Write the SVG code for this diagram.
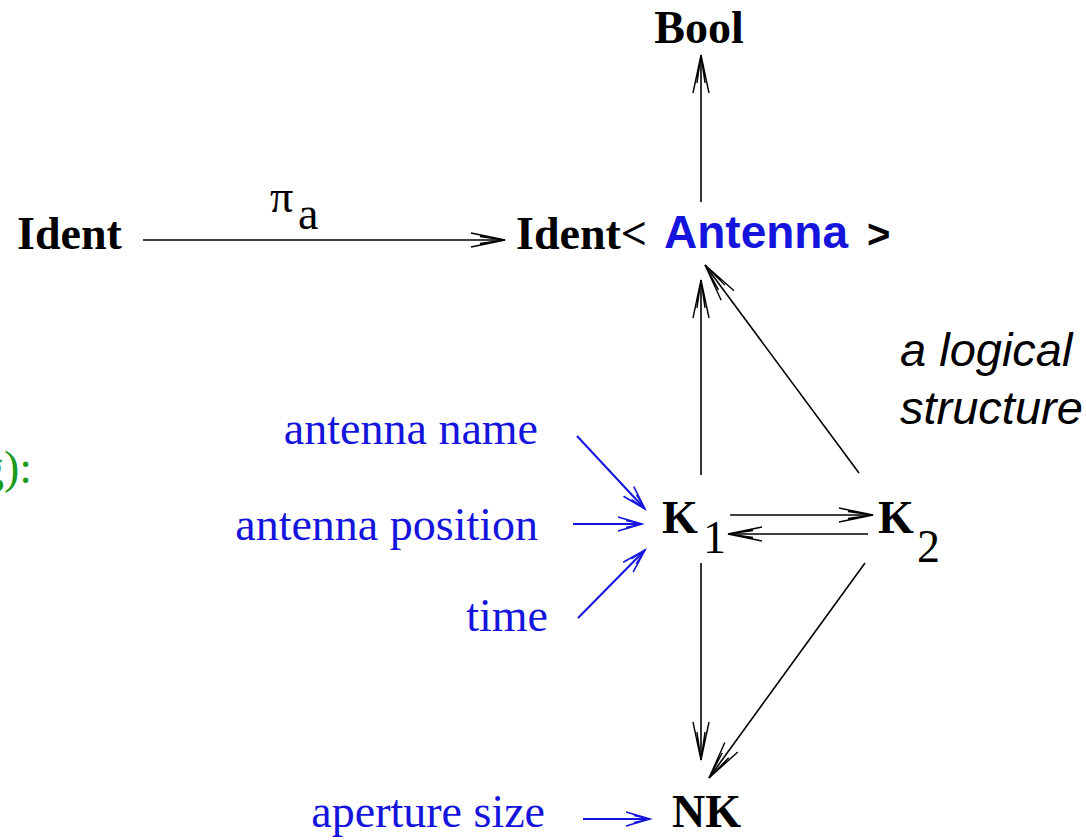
<svg xmlns="http://www.w3.org/2000/svg" width="1086" height="840" viewBox="0 0 1086 840">
<style>
.bs{font-family:"Liberation Serif","Times New Roman",serif;font-weight:bold;font-size:46px;fill:#000}
.rs{font-family:"Liberation Serif","Times New Roman",serif;font-size:46px}
.blue{fill:#1414dc}
.sans{font-family:"Liberation Sans",Arial,sans-serif}
.k{stroke:#000;stroke-width:1.6;fill:none}
.b{stroke:#1414dc;stroke-width:2;fill:none}
</style>
<defs>
<marker id="ak" markerUnits="userSpaceOnUse" orient="auto" markerWidth="50" markerHeight="24" refX="0" refY="0" viewBox="-40 -12 50 24" overflow="visible">
<path d="M-38,-8 L0,0 L-38,8 M-28,-4 L0,0 L-28,4" stroke="#000" stroke-width="1.4" fill="none"/>
</marker>
<marker id="aks" markerUnits="userSpaceOnUse" orient="auto" markerWidth="50" markerHeight="24" refX="0" refY="0" viewBox="-40 -12 50 24" overflow="visible">
<path d="M-34,-7 L0,0 L-34,7 M-25,-3.5 L0,0 L-25,3.5" stroke="#000" stroke-width="1.4" fill="none"/>
</marker>
<marker id="ab" markerUnits="userSpaceOnUse" orient="auto" markerWidth="40" markerHeight="20" refX="0" refY="0" viewBox="-30 -10 40 20" overflow="visible">
<path d="M-24,-7 L0,0 L-24,7 M-16,-3.5 L0,0 L-16,3.5" stroke="#1414dc" stroke-width="1.6" fill="none"/>
</marker>
</defs>

<g id="connectors">
<line class="k" x1="143" y1="240" x2="505" y2="240" marker-end="url(#aks)"/>
<line class="k" x1="701" y1="202" x2="701" y2="55" marker-end="url(#ak)"/>
<line class="k" x1="701" y1="475" x2="701" y2="280" marker-end="url(#ak)"/>
<line class="k" x1="859" y1="473" x2="705" y2="265" marker-end="url(#ak)"/>
<line class="k" x1="730" y1="515" x2="873" y2="515" marker-end="url(#aks)"/>
<line class="k" x1="868" y1="534" x2="728" y2="534" marker-end="url(#aks)"/>
<line class="k" x1="701" y1="563" x2="701" y2="760" marker-end="url(#ak)"/>
<line class="k" x1="865" y1="563" x2="709" y2="778" marker-end="url(#ak)"/>
<line class="b" x1="577" y1="436" x2="645" y2="509" marker-end="url(#ab)"/>
<line class="b" x1="573" y1="524" x2="642" y2="524" marker-end="url(#ab)"/>
<line class="b" x1="578" y1="618" x2="645" y2="550" marker-end="url(#ab)"/>
<line class="b" x1="583" y1="819" x2="650" y2="819" marker-end="url(#ab)"/>
</g>

<g id="label-pi">
<text class="rs" x="270" y="212" font-size="42">π</text>
<text class="rs" x="298" y="229" font-size="42">a</text>
</g>

<g id="node-bool"><text class="bs" x="699" y="43" text-anchor="middle">Bool</text></g>
<g id="node-ident"><text class="bs" x="17" y="249">Ident</text></g>
<g id="node-ident-antenna">
<text class="bs" x="516" y="249">Ident&lt;</text>
<text class="sans blue" x="664" y="248" font-size="46" font-weight="bold">Antenna</text>
<text class="sans" x="867" y="248" font-size="40" font-weight="bold">&gt;</text>
</g>
<g id="node-k1">
<text class="bs" x="662" y="533">K</text>
<text class="rs" x="703" y="553" font-size="33">1</text>
</g>
<g id="node-k2">
<text class="bs" x="878" y="533">K</text>
<text class="rs" x="917" y="562" font-size="33">2</text>
</g>
<g id="node-nk"><text class="bs" x="672" y="827">NK</text></g>

<g id="inputs">
<text class="rs blue" x="538" y="444" text-anchor="end">antenna name</text>
<text class="rs blue" x="538" y="540" text-anchor="end">antenna position</text>
<text class="rs blue" x="548" y="631" text-anchor="end">time</text>
<text class="rs blue" x="545" y="827" text-anchor="end">aperture size</text>
</g>

<g id="note">
<text class="sans" x="900" y="366" font-size="47" font-style="italic">a logical</text>
<text class="sans" x="900" y="424" font-size="47" font-style="italic">structure</text>
</g>

<g id="fragment"><text class="rs" x="32" y="483" text-anchor="end" fill="#1a9a1a">g):</text></g>
</svg>
